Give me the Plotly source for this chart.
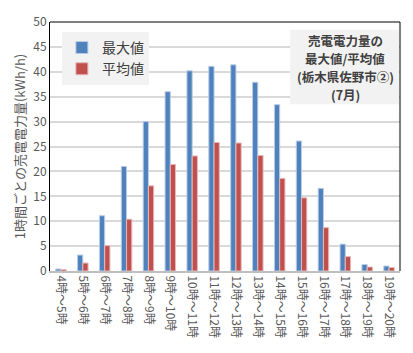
import plotly.graph_objects as go

categories = ["4時～5時", "5時～6時", "6時～7時", "7時～8時", "8時～9時", "9時～10時",
              "10時～11時", "11時～12時", "12時～13時", "13時～14時", "14時～15時",
              "15時～16時", "16時～17時", "17時～18時", "18時～19時", "19時～20時"]
max_vals = [0.4, 3.2, 11.1, 21.0, 30.0, 36.0, 40.2, 41.1, 41.4, 37.9, 33.4, 26.1, 16.6, 5.4, 1.3, 1.0]
avg_vals = [0.3, 1.6, 5.1, 10.4, 17.1, 21.4, 23.1, 25.8, 25.7, 23.2, 18.6, 14.7, 8.7, 2.9, 0.8, 0.7]
y_ticks = [0, 5, 10, 15, 20, 25, 30, 35, 40, 45, 50]
title_lines = ["売電電力量の", "最大値/平均値", "(栃木県佐野市②)", "(7月)"]

FONT = "Noto Sans CJK JP"

fig = go.Figure()
fig.add_bar(x=categories, y=max_vals, name="最大値", marker=dict(color="#4f81bd", line=dict(color="#b9cde5", width=1)))
fig.add_bar(x=categories, y=avg_vals, name="平均値", marker=dict(color="#c0504d", line=dict(color="#e6b9b8", width=1)))

title_y = [0.924, 0.852, 0.780, 0.708]
annotations = [
    dict(xref="paper", yref="paper", x=0.843, y=yy, xanchor="center", yanchor="middle",
         text="<b>%s</b>" % t, showarrow=False, font=dict(size=12.5, color="#404040"))
    for t, yy in zip(title_lines, title_y)
]

fig.update_layout(
    width=413, height=353,
    margin=dict(l=50, r=13, t=15, b=82),
    paper_bgcolor="white", plot_bgcolor="white",
    barmode="group", bargap=0.52, bargroupgap=0.0,
    font=dict(family=FONT, color="#595959", size=12),
    legend=dict(x=0.034, y=0.96, xanchor="left", yanchor="top",
                bgcolor="#f2f2f2", font=dict(size=14, color="#404040"),
                itemwidth=30, tracegroupgap=4),
    xaxis=dict(tickangle=90, showline=True, linecolor="#bfbfbf", linewidth=2,
               tickfont=dict(size=12, color="#595959"), ticks="", mirror=False),
    yaxis=dict(range=[0, 50], tickvals=y_ticks, gridcolor="#d9d9d9", gridwidth=2,
               showline=True, linecolor="black", linewidth=1, mirror=False,
               tickfont=dict(size=12, color="#595959"), zeroline=False,
               title=dict(text="1時間ごとの売電電力量(kWh/h)", font=dict(size=13, color="#595959"), standoff=4)),
    shapes=[
        dict(type="line", xref="paper", yref="paper", x0=0, x1=1, y0=1, y1=1, line=dict(color="black", width=1)),
        dict(type="line", xref="paper", yref="paper", x0=1, x1=1, y0=0, y1=1, line=dict(color="black", width=1)),
        dict(type="rect", xref="paper", yref="paper", x0=0.686, x1=0.997, y0=0.670, y1=0.969,
             fillcolor="#f2f2f2", line=dict(width=0), layer="above"),
    ],
    annotations=annotations,
)

fig.write_html("out.html")
